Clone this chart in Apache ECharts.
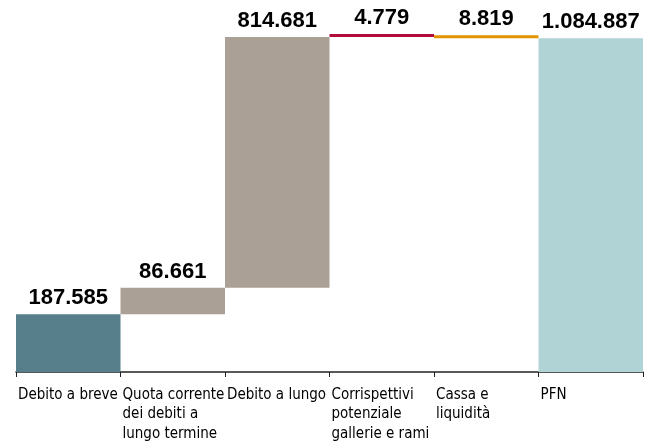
<!DOCTYPE html>
<html>
<head>
<meta charset="utf-8">
<script src="https://cdn.jsdelivr.net/npm/echarts@6/dist/echarts.min.js"></script>
<style>
  html, body { margin: 0; padding: 0; background: #ffffff; }
  #chart { width: 659px; height: 445px; }
</style>
</head>
<body>
<div id="chart"></div>
<script>
// Composizione della posizione finanziaria netta (migliaia di euro)
const categories = [
  'Debito a breve',
  'Quota corrente\ndei debiti a\nlungo termine',
  'Debito a lungo',
  'Corrispettivi\npotenziale\ngallerie e rami',
  'Cassa e\nliquidità',
  'PFN'
];
// Variazioni: positive aumentano il debito, negative lo riducono
const steps = [187585, 86661, 814681, 4779, -8819];
// Totale finale (PFN)
const totalValue = 1084887;

const barColors = ['#567f8b', '#aba095', '#aba095', '#b20a39', '#e29400', '#b0d3d5'];

// Basi invisibili e altezze visibili della cascata
const baseData = [];
const barData = [];
let running = 0;
steps.forEach(function (v) {
  if (v >= 0) {
    baseData.push(running);
    barData.push(v);
  } else {
    baseData.push(running + v);
    barData.push(-v);
  }
  running += v;
});
baseData.push(0);
barData.push(totalValue);

function formatIt(n) {
  return String(n).replace(/\B(?=(\d{3})+(?!\d))/g, '.');
}

const chart = echarts.init(document.getElementById('chart'), null, { renderer: 'canvas' });
chart.setOption({
  animation: false,
  grid: { left: 16, right: 16, top: 33.6, bottom: 73 },
  xAxis: [
    {
      type: 'category',
      data: categories,
      boundaryGap: true,
      axisLine: { show: true, lineStyle: { color: '#222222', width: 1.5 } },
      axisTick: { show: true, length: 5, lineStyle: { color: '#222222', width: 1 } },
      axisLabel: { show: false }
    },
    {
      // asse di servizio per le etichette allineate a sinistra di ogni colonna
      type: 'category',
      data: categories.concat(['']),
      boundaryGap: false,
      position: 'bottom',
      axisLine: { show: false },
      axisTick: { show: false },
      splitLine: { show: false },
      axisLabel: {
        interval: 0,
        align: 'left',
        verticalAlign: 'top',
        margin: 13,
        padding: [0, 0, 0, 2],
        fontFamily: '"DejaVu Sans Condensed", "Liberation Sans", sans-serif',
        fontSize: 15,
        lineHeight: 19.5,
        color: '#000000'
      }
    }
  ],
  yAxis: {
    type: 'value',
    min: 0,
    max: 1100000,
    show: false,
    splitLine: { show: false }
  },
  series: [
    {
      name: 'base',
      type: 'bar',
      stack: 'pfn',
      xAxisIndex: 0,
      barCategoryGap: '0%',
      itemStyle: { color: 'rgba(0,0,0,0)' },
      emphasis: { disabled: true },
      data: baseData
    },
    {
      name: 'valore',
      type: 'bar',
      stack: 'pfn',
      xAxisIndex: 0,
      barCategoryGap: '0%',
      barMinHeight: 3,
      data: barData.map(function (v, i) {
        return { value: v, itemStyle: { color: barColors[i] } };
      }),
      label: {
        show: true,
        position: 'top',
        distance: 5,
        fontFamily: '"Liberation Sans", Arial, sans-serif',
        fontWeight: 'bold',
        fontSize: 22,
        color: '#000000',
        formatter: function (p) { return formatIt(p.value); }
      }
    }
  ]
});
</script>
</body>
</html>
